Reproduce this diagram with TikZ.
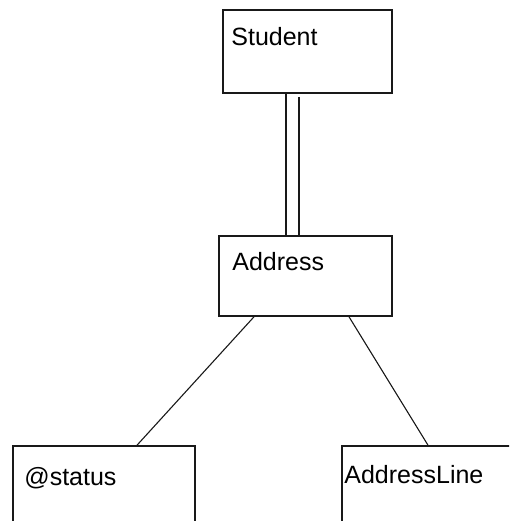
\documentclass[tikz,border=0pt]{standalone}
\usepackage{fontspec}
\setmainfont{Liberation Sans}
\tikzset{
  entity/.style={draw=black!90, line width=1.6pt, rectangle, inner sep=0pt, fill=white},
  label/.style={anchor=base west, inner sep=0pt, font=\fontsize{25}{30}\selectfont, text=black},
  link/.style={draw=black!90, line width=1.1pt},
  biglink/.style={draw=black!90, line width=1.6pt}
}
\begin{document}
\begin{tikzpicture}[x=1pt, y=-1pt]
  \useasboundingbox (0,0) rectangle (509,521);
  \clip (0,0) rectangle (509,521);
  \fill[white] (0,0) rectangle (509,521);

  % element boxes
  \node[entity, minimum width=169pt, minimum height=83pt] (student) at (307.5,51.5) {};
  \node[entity, minimum width=173pt, minimum height=80pt] (address) at (305.5,276) {};
  \node[entity, minimum width=182pt, minimum height=114pt] (status) at (104,503) {};
  \node[entity, minimum width=198pt, minimum height=114pt] (addrline) at (441,503) {};

  % names
  \node[label] (studentname) at ([shift={(9,36)}]student.north west) {Student};
  \node[label] (addressname) at ([shift={(14,35)}]address.north west) {Address};
  \node[label] (statusname) at ([shift={(12,40)}]status.north west) {@status};
  \node[label] (addrlinename) at ([shift={(3,38)}]addrline.north west) {AddressLine};

  % double line: Student to Address
  \draw[biglink] ([xshift=-21.5pt]student.south) -- ([xshift=-19.5pt]address.north);
  \draw[biglink] ([xshift=-8.5pt, yshift=-3pt]student.south) -- ([xshift=-6.5pt]address.north);

  % children of Address
  \draw[link] ([xshift=-51.5pt]address.south) -- ([xshift=33pt]status.north);
  \draw[link] ([xshift=43.5pt]address.south) -- ([xshift=-13pt]addrline.north);
\end{tikzpicture}
\end{document}
